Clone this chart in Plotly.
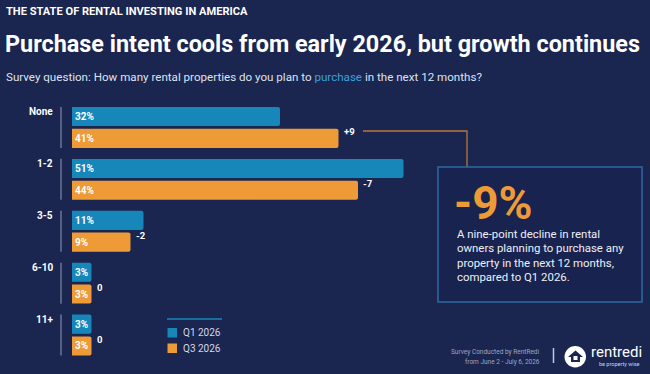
import plotly.graph_objects as go

# ---------------- data ----------------
categories = ["None", "1-2", "3-5", "6-10", "11+"]
q1_2026 = [32, 51, 11, 3, 3]
q3_2026 = [41, 44, 9, 3, 3]
changes = ["+9", "-7", "-2", "0", "0"]
series_names = ["Q1 2026", "Q3 2026"]

headline_value = "-9%"
headline_lines = [
    "A nine-point decline in rental",
    "owners planning to purchase any",
    "property in the next 12 months,",
    "compared to Q1 2026.",
]

# ---------------- style ----------------
W, H = 650, 374
BG = "#1a2550"
BLUE = "#1786b9"
ORANGE = "#ee9a36"
FONT = "Roboto"


def px(x):
    return x / W


def py(y):
    return 1 - y / H


fig = go.Figure()
for name, vals, col in [(series_names[0], q1_2026, BLUE), (series_names[1], q3_2026, ORANGE)]:
    fig.add_trace(go.Bar(
        name=name, y=categories, x=vals, orientation="h",
        marker=dict(color=col, line=dict(width=0), cornerradius=2),
        text=[f"{v}%" for v in vals], textposition="inside",
        insidetextanchor="start", constraintext="none",
        textfont=dict(family=FONT, size=10, color="white", weight="bold"),
        showlegend=False, hoverinfo="skip",
    ))

ann = []
shapes = []

# header texts
ann.append(dict(xref="paper", yref="paper", x=px(4), y=py(11.5), xanchor="left", yanchor="middle",
                text="THE STATE OF RENTAL INVESTING IN AMERICA", showarrow=False,
                font=dict(family=FONT, size=11.1, color="white", weight="bold")))
ann.append(dict(xref="paper", yref="paper", x=px(3), y=py(44), xanchor="left", yanchor="middle",
                text="Purchase intent cools from early 2026, but growth continues", showarrow=False,
                font=dict(family=FONT, size=23.4, color="white", weight="bold")))
ann.append(dict(xref="paper", yref="paper", x=px(4), y=py(77), xanchor="left", yanchor="middle",
                text="Survey question: How many rental properties do you plan to "
                     "<span style='color:#3ea0dc'>purchase</span> in the next 12 months?",
                showarrow=False, font=dict(family=FONT, size=11.6, color="#dfe3ee")))

# category labels + separators + change labels
for i, (cat, v3, ch) in enumerate(zip(categories, q3_2026, changes)):
    ann.append(dict(xref="paper", yref="y", x=px(55), y=cat, yshift=15.5, xanchor="right", yanchor="middle",
                    text=cat, showarrow=False,
                    font=dict(family=FONT, size=10, color="white", weight="bold")))
    ann.append(dict(xref="x", yref="y", x=v3, y=cat, xshift=3, yshift=-4.5, xanchor="left", yanchor="middle",
                    text=ch, showarrow=False,
                    font=dict(family=FONT, size=9.5, color="white", weight="bold")))
    shapes.append(dict(type="line", xref="paper", yref="y", x0=px(61), x1=px(61), y0=i - 0.395, y1=i + 0.395,
                       line=dict(color="#6c7698", width=1.5)))

# connector line and callout box
shapes.append(dict(type="path", xref="paper", yref="paper",
                   path=f"M {px(363)},{py(131)} L {px(467)},{py(131)} L {px(467)},{py(167)}",
                   line=dict(color="#b8773c", width=1.3)))
shapes.append(dict(type="rect", xref="paper", yref="paper", x0=px(438), x1=px(642), y0=py(302), y1=py(167),
                   line=dict(color="#2d6aa3", width=1.5), fillcolor="#182350"))
ann.append(dict(xref="paper", yref="paper", x=px(452), y=py(202.5), xanchor="left", yanchor="middle",
                text=headline_value, showarrow=False,
                font=dict(family=FONT, size=46, color=ORANGE, weight="bold")))
for k, line in enumerate(headline_lines):
    ann.append(dict(xref="paper", yref="paper", x=px(455), y=py(234 + 14.3 * k), xanchor="left", yanchor="middle",
                    text=line, showarrow=False,
                    font=dict(family=FONT, size=11.4, color="#eef0f6")))

# legend (manual)
shapes.append(dict(type="line", xref="paper", yref="paper", x0=px(167), x1=px(222), y0=py(319), y1=py(319),
                   line=dict(color=BLUE, width=1.5)))
for k, (name, col) in enumerate(zip(series_names, [BLUE, ORANGE])):
    y0 = 328 + 15.5 * k
    shapes.append(dict(type="rect", xref="paper", yref="paper", x0=px(167.5), x1=px(177), y0=py(y0 + 9.5), y1=py(y0),
                       line=dict(width=0), fillcolor=col))
    ann.append(dict(xref="paper", yref="paper", x=px(181), y=py(y0 + 4.8), xanchor="left", yanchor="middle",
                    text=name, showarrow=False, font=dict(family=FONT, size=10, color="#d3d8e6")))

# footer
ann.append(dict(xref="paper", yref="paper", x=px(542), y=py(352), xanchor="right", yanchor="middle",
                text="Survey Conducted by RentRedi", showarrow=False,
                font=dict(family=FONT, size=6.5, color="#9ea6c0")))
ann.append(dict(xref="paper", yref="paper", x=px(542), y=py(361.5), xanchor="right", yanchor="middle",
                text="from June 2 - July 6, 2026", showarrow=False,
                font=dict(family=FONT, size=6.5, color="#9ea6c0")))
shapes.append(dict(type="line", xref="paper", yref="paper", x0=px(553.5), x1=px(553.5), y0=py(348), y1=py(363),
                   line=dict(color="#c5cadb", width=1.5)))
# logo icon
shapes.append(dict(type="circle", xref="paper", yref="paper", x0=px(564.5), x1=px(586), y0=py(367.5), y1=py(346),
                   line=dict(width=0), fillcolor="white"))
shapes.append(dict(type="path", xref="paper", yref="paper",
                   path=(f"M {px(568)},{py(357)} L {px(575.5)},{py(350.5)} L {px(583)},{py(357)} "
                         f"L {px(580)},{py(357)} L {px(580)},{py(362)} L {px(571)},{py(362)} "
                         f"L {px(571)},{py(357)} Z"),
                   line=dict(width=0), fillcolor=BG))
shapes.append(dict(type="rect", xref="paper", yref="paper", x0=px(573.5), x1=px(577.5), y0=py(360), y1=py(356),
                   line=dict(width=0), fillcolor="white"))
ann.append(dict(xref="paper", yref="paper", x=px(589), y=py(351.5), xanchor="left", yanchor="middle",
                text="rentredi", showarrow=False, font=dict(family=FONT, size=15, color="white")))
ann.append(dict(xref="paper", yref="paper", x=px(597), y=py(364), xanchor="left", yanchor="middle",
                text="be property wise", showarrow=False, font=dict(family=FONT, size=5.5, color="#d0d4e0")))

fig.update_layout(
    width=W, height=H,
    margin=dict(l=0, r=0, t=0, b=0),
    paper_bgcolor=BG, plot_bgcolor=BG,
    barmode="group", bargap=0.16, bargroupgap=0.124,
    uniformtext=dict(minsize=10, mode="show"),
    xaxis=dict(domain=[px(72), 1], range=[0, 578 / 6.5], visible=False, fixedrange=True),
    yaxis=dict(domain=[py(361), py(101.5)], autorange="reversed", visible=False,
               categoryorder="array", categoryarray=categories, fixedrange=True),
    annotations=ann, shapes=shapes,
    font=dict(family=FONT),
)

fig.write_html("out.html", config={"displayModeBar": False})
